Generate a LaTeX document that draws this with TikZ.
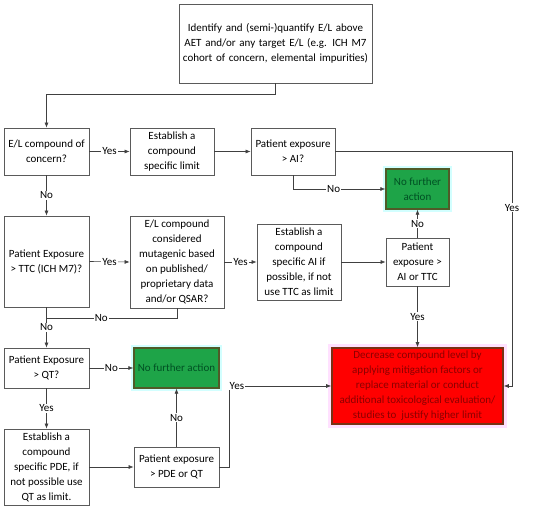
\documentclass[tikz,border=0pt]{standalone}
\usepackage{fontspec}
\setmainfont{Carlito}
\usetikzlibrary{arrows.meta,calc}
\definecolor{ln}{RGB}{64,64,64}
\definecolor{bd}{RGB}{90,90,90}
\definecolor{gfill}{RGB}{30,164,72}
\definecolor{gbord}{RGB}{80,90,40}
\definecolor{gtext}{RGB}{0,80,35}
\definecolor{rbord}{RGB}{120,50,20}
\definecolor{rtext}{RGB}{140,0,0}
\definecolor{cglow}{RGB}{210,255,255}
\definecolor{pglow}{RGB}{255,225,255}
\tikzset{
  box/.style={draw=bd, line width=0.8pt, fill=white, align=center, inner sep=1pt,
    font=\fontsize{11}{15}\selectfont},
  gbox/.style={draw=gbord, line width=1.3pt, fill=gfill, text=gtext, align=center, inner sep=1pt,
    font=\fontsize{11}{15}\selectfont},
  rbox/.style={draw=rbord, line width=1.6pt, fill=red, text=rtext, align=center, inner sep=1pt,
    font=\fontsize{11}{15}\selectfont},
  arr/.style={draw=ln, line width=0.6pt, -{Latex[length=5pt,width=4pt]}},
  ln/.style={draw=ln, line width=0.6pt},
  lbl/.style={fill=white, inner sep=1pt, font=\fontsize{11}{12}\selectfont}
}
\begin{document}
\begin{tikzpicture}[x=1pt,y=-1pt]
\useasboundingbox (0,0) rectangle (550,510);
% glows
\fill[cglow] (383,166) rectangle (452,212);
\fill[cglow] (131,345) rectangle (222,391);
\fill[pglow] (328,344) rectangle (507,428);
% nodes
\node[box, minimum width=193, minimum height=79, text width=190] (top) at (275.5,43.5)
  {Identify and (semi-)quantify E/L above\\AET and/or any target E/L (e.g. ICH M7\\cohort of concern, elemental impurities)};
\node[box, minimum width=85, minimum height=47] (elc) at (46.5,151.5) {E/L compound of\\concern?};
\node[box, minimum width=84, minimum height=47] (esl) at (172,151.5) {Establish a\\compound\\specific limit};
\node[box, minimum width=84, minimum height=47] (pai) at (293,151.5) {Patient exposure\\> AI?};
\node[gbox, minimum width=63, minimum height=40] (nfa1) at (417.5,189) {No further\\action};
\node[box, minimum width=85, minimum height=91] (ttc) at (46.5,261.5) {Patient Exposure\\> TTC (ICH M7)?};
\node[box, minimum width=94, minimum height=92] (mut) at (177,262) {E/L compound\\considered\\mutagenic based\\on published/\\proprietary data\\and/or QSAR?};
\node[box, minimum width=84, minimum height=76] (eai) at (299,262) {Establish a\\compound\\specific AI if\\possible, if not\\use TTC as limit};
\node[box, minimum width=63, minimum height=48] (pat) at (417.5,262) {Patient\\exposure >\\AI or TTC};
\node[box, minimum width=85, minimum height=40] (qt) at (46.5,368) {Patient Exposure\\> QT?};
\node[gbox, minimum width=85, minimum height=40] (nfa2) at (176.5,368) {No further action};
\node[box, minimum width=85, minimum height=76] (pde) at (46.5,467) {Establish a\\compound\\specific PDE, if\\not possible use\\QT as limit.};
\node[box, minimum width=85, minimum height=40] (ppq) at (176.5,467) {Patient exposure\\> PDE or QT};
\node[rbox, minimum width=171, minimum height=76] (red) at (417.5,386) {Decrease compound level by\\applying mitigation factors or\\replace material or conduct\\additional toxicological evaluation/\\studies to\ \ justify higher limit};
% junctions
\coordinate (j1) at (46.5,94);
\coordinate (j2) at (512,386);
\coordinate (j3) at (46.5,318);
\coordinate (j4) at (229,386);
% connectors
\draw[arr] (top.south) |- (j1) -- (elc.north);
\draw[arr] (elc.east) -- node[lbl]{Yes} (esl.west);
\draw[arr] (esl.east) -- (pai.west);
\draw[arr] (pai.east) -| node[lbl, pos=0.62]{Yes} (j2) -- (red.east);
\draw[arr] (pai.south) |- node[lbl, pos=0.72]{No} (nfa1.west);
\draw[arr] (elc.south) -- node[lbl]{No} (ttc.north);
\draw[arr] (ttc.east) -- node[lbl]{Yes} (mut.west);
\draw[arr] (mut.east) -- node[lbl]{Yes} (eai.west);
\draw[arr] (eai.east) -- (pat.west);
\draw[arr] (pat.north) -- node[lbl]{No} (nfa1.south);
\draw[arr] (pat.south) -- node[lbl]{Yes} (red.north);
\draw[ln] (mut.south) |- node[lbl, pos=0.79]{No} (j3);
\draw[arr] (ttc.south) -- node[lbl, pos=0.5]{No} (qt.north);
\draw[arr] (qt.east) -- node[lbl]{No} (nfa2.west);
\draw[arr] (qt.south) -- node[lbl]{Yes} (pde.north);
\draw[arr] (pde.east) -- (ppq.west);
\draw[arr] (ppq.north) -- node[lbl]{No} (nfa2.south);
\draw[arr] (ppq.east) -| (j4) -- (red.west);
\node[lbl, anchor=west, inner sep=0.5pt] (yl) at (j4) {Yes};
\end{tikzpicture}
\end{document}
